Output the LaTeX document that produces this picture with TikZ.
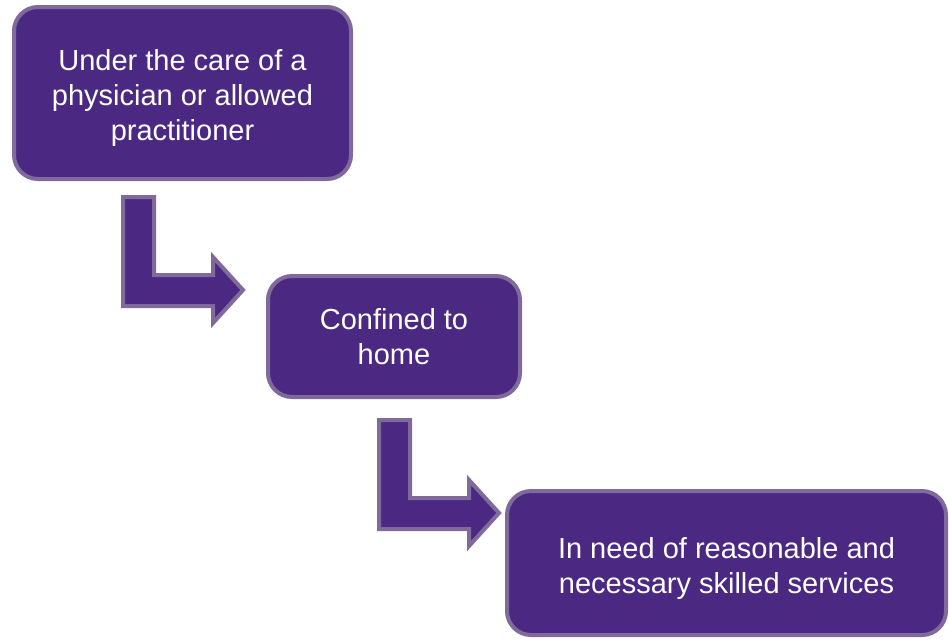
\documentclass[tikz,border=0pt]{standalone}
\usepackage{fontspec}
\setmainfont{Liberation Sans}
\definecolor{boxfill}{RGB}{75,40,130}
\definecolor{boxline}{RGB}{128,106,155}
\newcommand{\lowstrut}{\rule{0pt}{31pt}}

\begin{document}
\begin{tikzpicture}[x=1pt,y=-1pt,
	box/.style={draw=boxline, fill=boxfill, line width=4pt, rounded corners=24pt, text=white, align=center, inner sep=0pt, font=\fontsize{29}{35}\selectfont},
	bent/.style={draw=boxline, fill=boxfill, line width=4pt}]
	\useasboundingbox (0,0) rectangle (949,641);
	
	\node [box, minimum width=337pt, minimum height=172pt] (care) at (182.5,93) {\lowstrut Under the care of a\\physician or allowed\\practitioner};
	\node [box, minimum width=252pt, minimum height=121pt] (home) at (394,336.5) {Confined to\\home};
	\node [box, minimum width=439pt, minimum height=144pt] (need) at (726.5,563) {\lowstrut In need of reasonable and\\necessary skilled services};
	
	\foreach \sx/\sy in {123/197, 379/420}
	{
		\draw [bent, shift={(\sx,\sy)}] (0,0) -- (31,0) -- (31,78) -- (90,78) -- (90,60) -- (120,93) -- (90,126) -- (90,109) -- (0,109) -- cycle;
	}
	
\end{tikzpicture}
\end{document}
